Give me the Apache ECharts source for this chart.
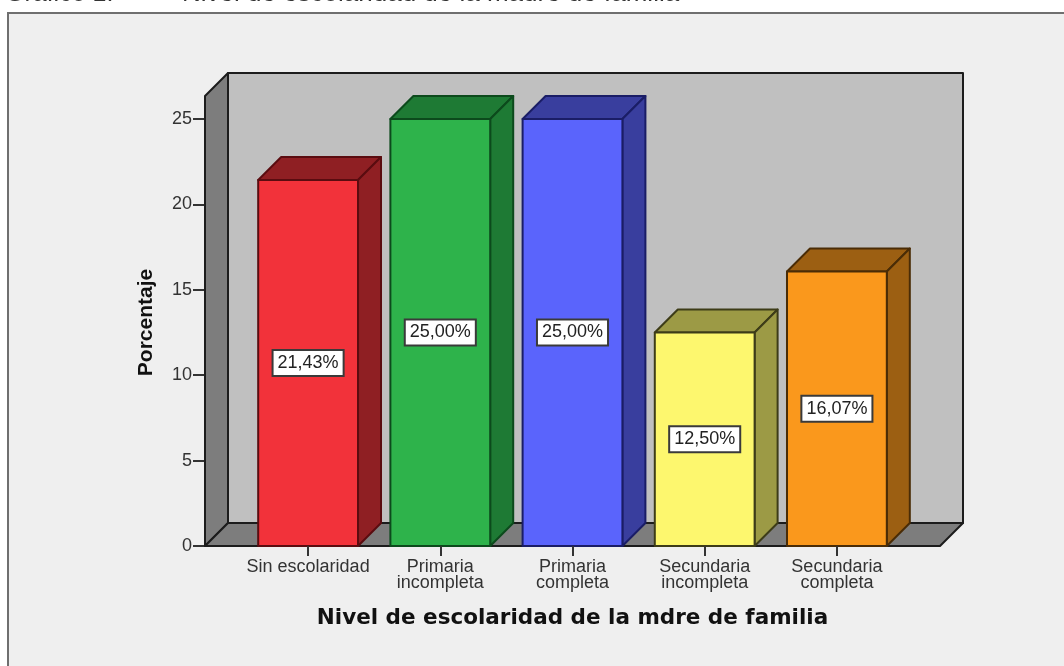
<!DOCTYPE html>
<html>
<head>
<meta charset="utf-8">
<style>html,body{margin:0;padding:0;background:#fff}#c{width:1064px;height:666px}</style>
<script src="https://cdn.jsdelivr.net/npm/echarts@6/dist/echarts.min.js"></script>
</head>
<body>
<div id="c"></div>
<script>
const categories = ['Sin escolaridad', 'Primaria\nincompleta', 'Primaria\ncompleta', 'Secundaria\nincompleta', 'Secundaria\ncompleta'];
const percentages = [21.43, 25.00, 25.00, 12.50, 16.07];
const frontColors = ['#f2323a', '#2eb34b', '#5a64fc', '#fdf76e', '#fa981c'];
const sideColors = ['#8f1f23', '#1e7a34', '#393e9e', '#9c9a45', '#9c5f12'];
const edgeColors = ['#5a0c10', '#0c4a1c', '#1a1d66', '#3d3c18', '#4a2c06'];
const xTitle = 'Nivel de escolaridad de la mdre de familia';
const yTitle = 'Porcentaje';
const figureLabel = 'Gráfico 1.';
const pageTitle = 'Nivel de escolaridad de la madre de familia';

const DEPTH = 23, OVERHANG = 37, BAR_RATIO = 0.755;
const AXIS_FONT = '"Liberation Sans", Arial, sans-serif';
const LINE = '#1c1c1c';

function poly(points, fill, stroke, lw) {
  return { type: 'polygon', shape: { points }, style: { fill, stroke, lineWidth: lw, lineJoin: 'round' } };
}

function renderWalls(params) {
  const cs = params.coordSys;
  const l = cs.x - OVERHANG, r = cs.x + cs.width + OVERHANG, b = cs.y + cs.height;
  const t = cs.y - DEPTH;
  return {
    type: 'group',
    children: [
      poly([[l + DEPTH, t - DEPTH], [r + DEPTH, t - DEPTH], [r + DEPTH, b - DEPTH], [l + DEPTH, b - DEPTH]], '#c0c0c0', LINE, 2),
      poly([[l, b], [l + DEPTH, b - DEPTH], [l + DEPTH, t - DEPTH], [l, t]], '#7d7d7d', LINE, 2),
      poly([[l, b], [l + DEPTH, b - DEPTH], [r + DEPTH, b - DEPTH], [r, b]], '#7d7d7d', LINE, 2)
    ]
  };
}

function renderBar(params, api) {
  const i = api.value(0), v = api.value(1);
  const top = api.coord([i, v]), base = api.coord([i, 0]);
  const w = api.size([1, 0])[0] * BAR_RATIO;
  const x0 = top[0] - w / 2, x1 = top[0] + w / 2, y0 = top[1], y1 = base[1];
  const e = edgeColors[i];
  return {
    type: 'group',
    children: [
      poly([[x0, y0], [x0 + DEPTH, y0 - DEPTH], [x1 + DEPTH, y0 - DEPTH], [x1, y0]], sideColors[i], e, 2),
      poly([[x1, y0], [x1 + DEPTH, y0 - DEPTH], [x1 + DEPTH, y1 - DEPTH], [x1, y1]], sideColors[i], e, 2),
      poly([[x0, y0], [x1, y0], [x1, y1], [x0, y1]], frontColors[i], e, 2),
      {
        type: 'text',
        x: top[0],
        y: (y0 + y1) / 2,
        style: {
          text: v.toFixed(2).replace('.', ',') + '%',
          font: '18px ' + AXIS_FONT,
          fill: '#222',
          align: 'center',
          verticalAlign: 'middle',
          backgroundColor: '#ffffff',
          borderColor: '#3a3a3a',
          borderWidth: 2,
          padding: [3, 4, 3, 4]
        }
      }
    ]
  };
}

const chart = echarts.init(document.getElementById('c'), null, { renderer: 'canvas' });
chart.setOption({
  animation: false,
  backgroundColor: '#ffffff',
  graphic: [
    { type: 'rect', z: -10, shape: { x: 8, y: 13, width: 1056, height: 653 },
      style: { fill: '#efefef' } },
    { type: 'polyline', z: -9, shape: { points: [[8, 666], [8, 13], [1064, 13]] },
      style: { fill: null, stroke: '#6f6f6f', lineWidth: 2 } },
    { type: 'text', z: -8, x: 5, y: 7,
      style: { text: figureLabel, font: '25px "Liberation Sans", Arial, sans-serif', fill: '#333', verticalAlign: 'bottom' } },
    { type: 'text', z: -8, x: 182, y: 7,
      style: { text: pageTitle, font: '26px "Liberation Sans", Arial, sans-serif', fill: '#333', verticalAlign: 'bottom' } }
  ],
  grid: { left: 242, right: 161, top: 119, bottom: 120 },
  xAxis: {
    type: 'category',
    data: categories,
    name: xTitle,
    nameLocation: 'middle',
    nameGap: 61,
    nameTextStyle: { fontFamily: '"DejaVu Sans", sans-serif', fontWeight: 'bold', fontSize: 21.5, color: '#111' },
    axisLine: { show: false },
    axisTick: { show: true, alignWithLabel: true, length: 10, lineStyle: { color: '#333', width: 2 } },
    axisLabel: { interval: 0, margin: 13, fontFamily: AXIS_FONT, fontSize: 18, color: '#333', lineHeight: 16 },
    z: 5
  },
  yAxis: {
    type: 'value',
    min: 0,
    max: 25,
    interval: 5,
    offset: OVERHANG,
    name: yTitle,
    nameLocation: 'middle',
    nameGap: 48,
    nameRotate: 90,
    nameTextStyle: { fontFamily: AXIS_FONT, fontWeight: 'bold', fontSize: 21, color: '#111', padding: [0, 0, 0, 20] },
    splitLine: { show: false },
    axisLine: { show: true, lineStyle: { color: LINE, width: 2 } },
    axisTick: { show: true, length: 12, lineStyle: { color: '#333', width: 2 } },
    axisLabel: { margin: 13, fontFamily: AXIS_FONT, fontSize: 18, color: '#333' }
  },
  series: [
    { type: 'custom', z: 1, silent: true, clip: false, renderItem: renderWalls, data: [[0, 0]], encode: { x: 0, y: 1 } },
    { type: 'custom', z: 2, silent: true, clip: false, renderItem: renderBar,
      data: percentages.map((v, i) => [i, v]), encode: { x: 0, y: 1 } }
  ]
});
</script>
</body>
</html>
